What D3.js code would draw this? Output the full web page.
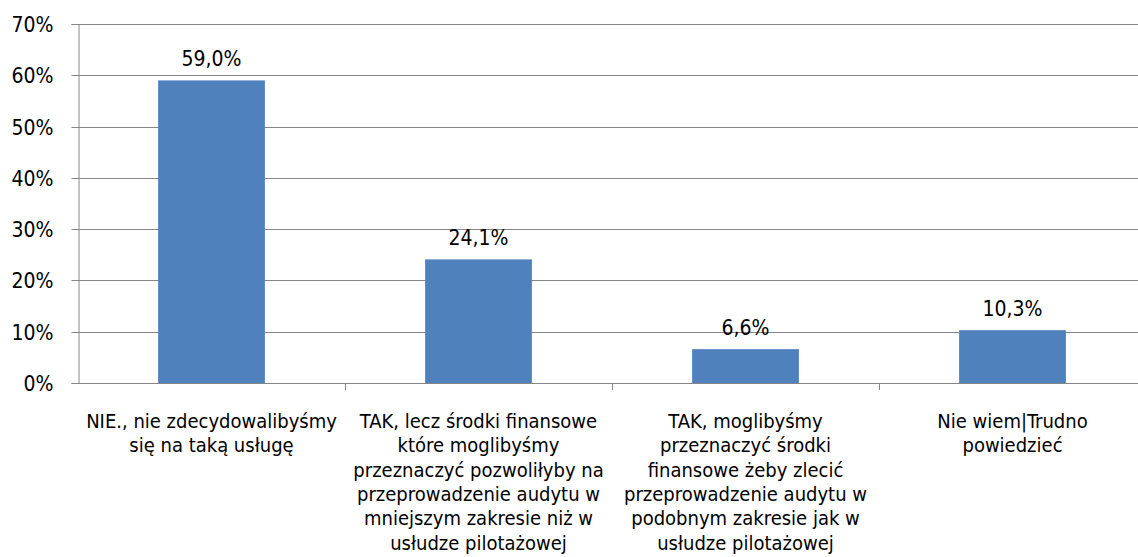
<!DOCTYPE html>
<html><head><meta charset="utf-8">
<script src="https://cdn.jsdelivr.net/npm/d3@7"></script>
<style>body{margin:0;background:#fff}svg{display:block}text{font-family:"DejaVu Sans Condensed","DejaVu Sans",Verdana,sans-serif;font-stretch:condensed;fill:#000}</style>
</head><body><svg id="c" width="1138" height="557"></svg>
<script>
const categories = ["NIE", "TAK_mniej", "TAK_podobnie", "NIE_WIEM"];
const categoryLines = [
  ["NIE., nie zdecydowalibyśmy", "się na taką usługę"],
  ["TAK, lecz środki finansowe", "które moglibyśmy", "przeznaczyć pozwoliłyby na", "przeprowadzenie audytu w", "mniejszym zakresie niż w", "usłudze pilotażowej"],
  ["TAK, moglibyśmy", "przeznaczyć środki", "finansowe żeby zlecić", "przeprowadzenie audytu w", "podobnym zakresie jak w", "usłudze pilotażowej"],
  ["Nie wiem|Trudno", "powiedzieć"]
];
const values = [59.0, 24.1, 6.6, 10.3];
const valueLabels = ["59,0%", "24,1%", "6,6%", "10,3%"];
const yTicks = [0, 10, 20, 30, 40, 50, 60, 70];

(function () {
const svg = d3.select("#c");
const pLeft = 78, pRight = 1146, pTop = 24, pBottom = 383;
const x = d3.scaleBand().domain(categories).range([pLeft, pRight]).padding(0);
const y = d3.scaleLinear().domain([0, 70]).range([pBottom, pTop]);

svg.append("g").selectAll("line").data(yTicks).join("line")
  .attr("x1", pLeft).attr("x2", pRight)
  .attr("y1", d => Math.round(y(d)) + 0.5).attr("y2", d => Math.round(y(d)) + 0.5)
  .attr("stroke", "#868686").attr("stroke-width", 1);

const yAxis = d3.axisLeft(y).tickValues(yTicks).tickFormat(d => d + "%").tickSize(7).tickPadding(18);
const gy = svg.append("g").attr("transform", `translate(${pLeft + 0.5},0)`).call(yAxis);
gy.select(".domain").attr("stroke", "#868686");
gy.selectAll(".tick line").attr("stroke", "#868686");
gy.selectAll(".tick text").style("font-size", "21px").attr("fill", "#000").attr("dy", "0.36em");
gy.selectAll(".tick").attr("transform", d => `translate(0,${Math.round(y(d)) + 0.5})`);

const gx = svg.append("g");
gx.append("line").attr("x1", pLeft).attr("x2", pRight).attr("y1", Math.round(y(0)) + 0.5).attr("y2", Math.round(y(0)) + 0.5).attr("stroke", "#868686");
gx.selectAll("line.t").data(categories.slice(1)).join("line").attr("class", "t")
  .attr("x1", d => Math.round(x(d)) + 0.5).attr("x2", d => Math.round(x(d)) + 0.5)
  .attr("y1", Math.round(y(0))).attr("y2", Math.round(y(0)) + 7).attr("stroke", "#868686");

const step = x.step();
svg.append("g").selectAll("rect").data(values).join("rect")
  .attr("x", (d, i) => x(categories[i]) + step * 0.3)
  .attr("width", step * 0.4)
  .attr("y", d => y(d))
  .attr("height", d => y(0) - y(d))
  .attr("fill", "#4F81BD");

svg.append("g").selectAll("text").data(values).join("text")
  .attr("x", (d, i) => x(categories[i]) + step / 2)
  .attr("y", d => y(d) - 14)
  .attr("text-anchor", "middle").style("font-size", "21px")
  .text((d, i) => valueLabels[i]);

const gl = svg.append("g");
categories.forEach((c, i) => {
  const t = gl.append("text").attr("text-anchor", "middle").style("font-size", "20px");
  categoryLines[i].forEach((ln, j) => {
    t.append("tspan").attr("x", x(c) + step / 2).attr("y", 428 + j * 24.3).text(ln);
  });
});
})();
</script></body></html>
